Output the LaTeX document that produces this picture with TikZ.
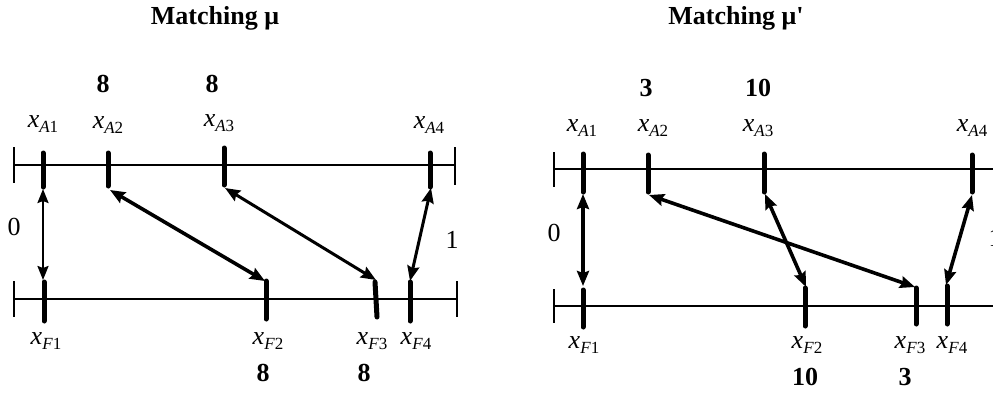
\documentclass[tikz,border=0pt]{standalone}
\usepackage{fontspec}
\setmainfont{Liberation Serif}
\newfontfamily\rawserif{Liberation Serif}[Ligatures=TeXOff]
\usetikzlibrary{arrows.meta}
\newcommand{\xlab}[2]{\textit{x}\raisebox{-0.22em}{\fontsize{17}{20}\selectfont\textit{#1}#2}}
\tikzset{
  axis/.style={line width=1.4pt},
  endtick/.style={line width=1.6pt},
  marker/.style={line width=5pt, line cap=round},
  match/.style={line width=3.6pt, {Stealth[length=15pt,width=12pt,inset=2pt]}-{Stealth[length=15pt,width=12pt,inset=2pt]}},
  matchthin/.style={line width=2.2pt, {Stealth[length=14pt,width=11pt,inset=2pt]}-{Stealth[length=14pt,width=11pt,inset=2pt]}},
  lbl/.style={font=\fontsize{26}{30}\selectfont, inner sep=0pt},
  num/.style={font=\fontsize{26}{30}\selectfont\bfseries, inner sep=0pt},
  ttl/.style={font=\fontsize{26}{30}\selectfont\bfseries, inner sep=0pt}
}
\begin{document}
\begin{tikzpicture}[x=1pt,y=-1pt]
\useasboundingbox (0,0) rectangle (993,392);
% ===== Left panel =====
\node[ttl] (t1) at (215,18) {Matching μ};
% axes
\coordinate (lTL) at (14,165); \coordinate (lTR) at (455,165);
\coordinate (lBL) at (14,299); \coordinate (lBR) at (457,299);
\draw[axis] (lTL) -- (lTR);
\draw[axis] (lBL) -- (lBR);
\draw[endtick] (14,147) -- (14,183);
\draw[endtick] (455,147) -- (455,185);
\draw[endtick] (14,281) -- (14,317);
\draw[endtick] (457,281) -- (457,317);
% top markers
\coordinate (la1t) at (43,153); \coordinate (la1b) at (43,187);
\coordinate (la2t) at (108,153); \coordinate (la2b) at (108,186);
\coordinate (la3t) at (224,148); \coordinate (la3b) at (224,185);
\coordinate (la4t) at (430,153); \coordinate (la4b) at (430,187);
\foreach \m in {la1,la2,la3,la4} \draw[marker] (\m t) -- (\m b);
% bottom markers
\coordinate (lf1t) at (44,282); \coordinate (lf1b) at (44,321);
\coordinate (lf2t) at (266,281); \coordinate (lf2b) at (266,319);
\coordinate (lf3t) at (375,282); \coordinate (lf3b) at (377,317);
\coordinate (lf4t) at (410,282); \coordinate (lf4b) at (410,321);
\foreach \m in {lf1,lf2,lf3,lf4} \draw[marker] (\m t) -- (\m b);
% labels
\node[lbl] (lA1) at (43,124) {\xlab{A}{1}};
\node[lbl] (lA2) at (108,125) {\xlab{A}{2}};
\node[lbl] (lA3) at (219,123) {\xlab{A}{3}};
\node[lbl] (lA4) at (429,125) {\xlab{A}{4}};
\node[lbl] (lF1) at (46,341) {\xlab{F}{1}};
\node[lbl] (lF2) at (268,341) {\xlab{F}{2}};
\node[lbl] (lF3) at (372,341) {\xlab{F}{3}};
\node[lbl] (lF4) at (416,341) {\xlab{F}{4}};
\node[num] (ln1) at (103,84) {8};
\node[num] (ln2) at (212,84) {8};
\node[num] (ln3) at (263,373) {8};
\node[num] (ln4) at (364,373) {8};
\node[lbl] (l0) at (14,227) {0};
\node[lbl] (l1) at (452,240) {1};
% matches
\coordinate (lm1a) at (43,189); \coordinate (lm1b) at (43,280);
\coordinate (lm2a) at (110,190); \coordinate (lm2b) at (265,281);
\coordinate (lm3a) at (225,188); \coordinate (lm3b) at (376,280);
\coordinate (lm4a) at (431,188); \coordinate (lm4b) at (410,281);
\draw[matchthin] (lm1a) -- (lm1b);
\draw[match] (lm2a) -- (lm2b);
\draw[match, line width=3pt] (lm3a) -- (lm3b);
\draw[match, line width=3pt] (lm4a) -- (lm4b);
% ===== Right panel =====
\node[ttl] (t2) at (736,18) {Matching μ{\rawserif'}};
\coordinate (rTL) at (554,169); \coordinate (rTR) at (1000,169);
\coordinate (rBL) at (554,306); \coordinate (rBR) at (1000,306);
\draw[axis] (rTL) -- (rTR);
\draw[axis] (rBL) -- (rBR);
\draw[endtick] (554,152) -- (554,187);
\draw[endtick] (554,289) -- (554,323);
% top markers
\coordinate (ra1t) at (583,154); \coordinate (ra1b) at (583,192);
\coordinate (ra2t) at (648,155); \coordinate (ra2b) at (648,192);
\coordinate (ra3t) at (764,154); \coordinate (ra3b) at (764,192);
\coordinate (ra4t) at (972,155); \coordinate (ra4b) at (972,192);
\foreach \m in {ra1,ra2,ra3,ra4} \draw[marker] (\m t) -- (\m b);
% bottom markers
\coordinate (rf1t) at (583,290); \coordinate (rf1b) at (583,327);
\coordinate (rf2t) at (805,288); \coordinate (rf2b) at (805,326);
\coordinate (rf3t) at (916,288); \coordinate (rf3b) at (916,324);
\coordinate (rf4t) at (947,286); \coordinate (rf4b) at (947,324);
\foreach \m in {rf1,rf2,rf3,rf4} \draw[marker] (\m t) -- (\m b);
% labels
\node[lbl] (rA1) at (582,128) {\xlab{A}{1}};
\node[lbl] (rA2) at (653,128) {\xlab{A}{2}};
\node[lbl] (rA3) at (758,128) {\xlab{A}{3}};
\node[lbl] (rA4) at (972,128) {\xlab{A}{4}};
\node[lbl] (rF1) at (584,345) {\xlab{F}{1}};
\node[lbl] (rF2) at (807,345) {\xlab{F}{2}};
\node[lbl] (rF3) at (910,345) {\xlab{F}{3}};
\node[lbl] (rF4) at (952,345) {\xlab{F}{4}};
\node[num] (rn1) at (646,88) {3};
\node[num] (rn2) at (758,88) {10};
\node[num] (rn3) at (805,377) {10};
\node[num] (rn4) at (905,377) {3};
\node[lbl] (r0) at (554,233) {0};
\node[lbl] (r1) at (995,238) {1};
% matches
\coordinate (rm1a) at (583,194); \coordinate (rm1b) at (583,286);
\coordinate (rm2a) at (649,195); \coordinate (rm2b) at (915,287);
\coordinate (rm3a) at (765,194); \coordinate (rm3b) at (806,287);
\coordinate (rm4a) at (972,195); \coordinate (rm4b) at (946,285);
\draw[match] (rm1a) -- (rm1b);
\draw[match] (rm2a) -- (rm2b);
\draw[match] (rm3a) -- (rm3b);
\draw[match] (rm4a) -- (rm4b);
\end{tikzpicture}
\end{document}
